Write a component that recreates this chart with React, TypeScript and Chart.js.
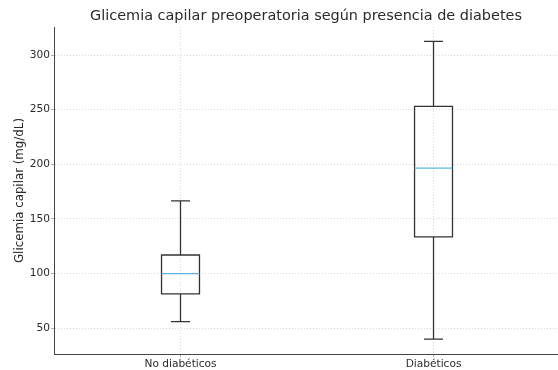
import React, { useEffect, useRef } from "react";
import { Chart, registerables } from "chart.js";

Chart.register(...registerables);

const categories = ["No diabéticos", "Diabéticos"];
const whiskerLow = [56, 40];
const q1 = [81.5, 133.5];
const median = [100, 196.5];
const q3 = [117, 253];
const whiskerHigh = [166.5, 312.5];
const yTicks = [50, 100, 150, 200, 250, 300];

const TITLE = "Glicemia capilar preoperatoria según presencia de diabetes";
const Y_LABEL = "Glicemia capilar (mg/dL)";
const FONT = "'DejaVu Sans', sans-serif";
const BOX_HALF = 0.075;
const CAP_HALF = 0.0375;

const boxPlugin = {
  id: "boxplots",
  afterDatasetsDraw(chart: any) {
    const { ctx, scales } = chart;
    const x = scales.x;
    const y = scales.y;
    categories.forEach((_, i) => {
      const pos = i + 1;
      const xc = x.getPixelForValue(pos);
      const xl = x.getPixelForValue(pos - BOX_HALF);
      const xr = x.getPixelForValue(pos + BOX_HALF);
      const cl = x.getPixelForValue(pos - CAP_HALF);
      const cr = x.getPixelForValue(pos + CAP_HALF);
      const yLo = y.getPixelForValue(whiskerLow[i]);
      const yQ1 = y.getPixelForValue(q1[i]);
      const yMed = y.getPixelForValue(median[i]);
      const yQ3 = y.getPixelForValue(q3[i]);
      const yHi = y.getPixelForValue(whiskerHigh[i]);
      ctx.save();
      ctx.strokeStyle = "#333333";
      ctx.lineWidth = 1.3;
      ctx.beginPath();
      ctx.rect(xl, yQ3, xr - xl, yQ1 - yQ3);
      ctx.moveTo(xc, yQ1);
      ctx.lineTo(xc, yLo);
      ctx.moveTo(xc, yQ3);
      ctx.lineTo(xc, yHi);
      ctx.moveTo(cl, yLo);
      ctx.lineTo(cr, yLo);
      ctx.moveTo(cl, yHi);
      ctx.lineTo(cr, yHi);
      ctx.stroke();
      ctx.strokeStyle = "#5cb3e4";
      ctx.lineWidth = 1.3;
      ctx.beginPath();
      ctx.moveTo(xl, yMed);
      ctx.lineTo(xr, yMed);
      ctx.stroke();
      ctx.restore();
    });
  },
};

export default function App() {
  const ref = useRef<HTMLCanvasElement | null>(null);
  useEffect(() => {
    document.body.style.margin = "0";
    const canvas = ref.current;
    if (!canvas) return;
    const chart = new Chart(canvas, {
      type: "scatter",
      data: { datasets: [{ data: [], showLine: false }] },
      plugins: [boxPlugin],
      options: {
        animation: false,
        responsive: false,
        layout: { padding: 0 },
        plugins: {
          legend: { display: false },
          tooltip: { enabled: false },
          title: {
            display: true,
            fullSize: false,
            text: TITLE,
            color: "#2b2b2b",
            font: { family: FONT, size: 14.45, weight: "normal" },
            padding: { top: 7.3, bottom: 2.4 },
          },
        },
        scales: {
          x: {
            type: "linear",
            min: 0.5,
            max: 2.492,
            afterBuildTicks: (scale: any) => {
              scale.ticks = categories.map((_, i) => ({ value: i + 1 }));
            },
            afterFit: (scale: any) => {
              scale.height = 16;
            },
            ticks: {
              color: "#2b2b2b",
              font: { family: FONT, size: 10.6 },
              padding: 0.5,
              autoSkip: false,
              maxRotation: 0,
              callback: (v: any) => categories[Number(v) - 1] ?? "",
            },
            grid: {
              color: "#cfcfcf",
              lineWidth: 0.8,
              drawTicks: true,
              tickLength: 3,
              tickColor: "#9a9a9a",
              tickBorderDash: [],
            },
            border: { display: true, color: "#444444", width: 1, dash: [1, 2] },
          },
          y: {
            type: "linear",
            min: 26.4,
            max: 325.6,
            afterBuildTicks: (scale: any) => {
              scale.ticks = yTicks.map((v) => ({ value: v }));
            },
            afterFit: (scale: any) => {
              scale.width = 54;
            },
            title: {
              display: true,
              text: Y_LABEL,
              color: "#2b2b2b",
              font: { family: FONT, size: 11.8 },
              padding: { top: 12.9, bottom: 0 },
            },
            ticks: {
              color: "#2b2b2b",
              font: { family: FONT, size: 10.6 },
              padding: 1,
              callback: (v: any) => String(v),
            },
            grid: {
              color: "#cfcfcf",
              lineWidth: 0.8,
              drawTicks: true,
              tickLength: 3,
              tickColor: "#9a9a9a",
              tickBorderDash: [],
            },
            border: { display: true, color: "#444444", width: 1, dash: [1, 2] },
          },
        },
      },
    } as any);
    return () => chart.destroy();
  }, []);
  return (
    <div style={{ width: 558, height: 370 }}>
      <canvas ref={ref} width={558} height={370} style={{ display: "block" }} />
    </div>
  );
}
